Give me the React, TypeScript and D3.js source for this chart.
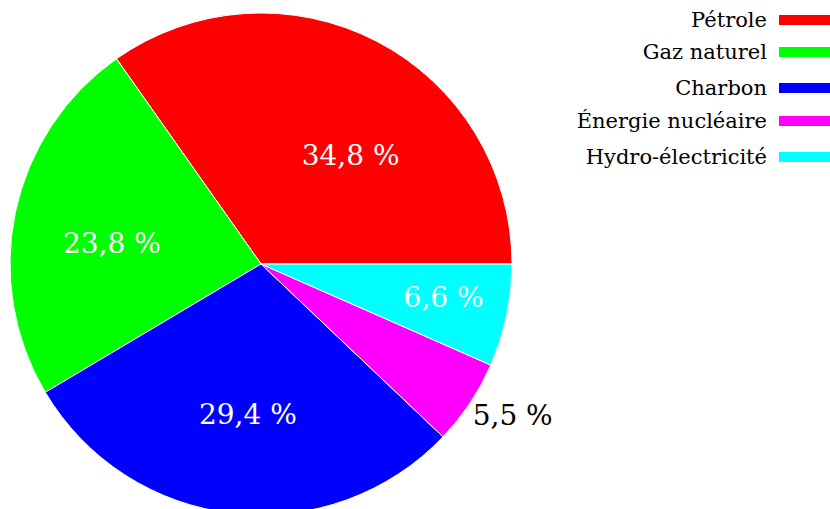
import React from "react";
import * as d3 from "d3";

const categories = ["Pétrole", "Gaz naturel", "Charbon", "Énergie nucléaire", "Hydro-électricité"];
const values = [34.8, 23.8, 29.4, 5.5, 6.6];
const valueLabels = ["34,8 %", "23,8 %", "29,4 %", "5,5 %", "6,6 %"];
const colors = ["#ff0000", "#00ff00", "#0000ff", "#ff00ff", "#00ffff"];

// label layout: [angle from east, counter-clockwise (deg), radius fraction]
const labelPolar: [number, number][] = [
  [50.4, 0.56],
  [172, 0.6],
  [265, 0.6],
  [329, 1.17],
  [349.5, 0.74],
];
const labelInside = [true, true, true, false, true];

const W = 830, H = 509;
const cx = 261, cy = 264, R = 251;
const FONT = "'DejaVu Serif', serif";

export default function App() {
  const total = d3.sum(values);
  const angle = d3.scaleLinear().domain([0, total]).range([0, 2 * Math.PI]);
  let cum = 0;
  const slices = values.map((v, i) => {
    const a0 = angle(cum);
    cum += v;
    const a1 = angle(cum);
    return { i, startAngle: Math.PI / 2 - a1, endAngle: Math.PI / 2 - a0 };
  });
  const arc = d3.arc<any>().innerRadius(0).outerRadius(R);

  const legendY = [20, 52, 88, 121, 157];

  return (
    <svg width={W} height={H} style={{ position: "absolute", left: 0, top: 0 }}>
      <rect width={W} height={H} fill="#fff" />
      <g transform={`translate(${cx},${cy})`}>
        {slices.map((s) => (
          <path key={s.i} d={arc(s) as string} fill={colors[s.i]} stroke="#fff" strokeWidth={1} strokeLinejoin="round" />
        ))}
        {labelPolar.map(([deg, f], i) => {
          const a = (deg * Math.PI) / 180;
          const x = Math.cos(a) * R * f;
          const y = -Math.sin(a) * R * f;
          return (
            <text key={i} x={x} y={y} textAnchor="middle" dominantBaseline="central"
              fill={labelInside[i] ? "#fff" : "#000"} fontFamily={FONT} fontSize={28}>
              {valueLabels[i]}
            </text>
          );
        })}
      </g>
      <g>
        {categories.map((c, i) => (
          <g key={c}>
            <text x={767} y={legendY[i]} textAnchor="end" dominantBaseline="central" fontFamily={FONT} fontSize={21}>
              {c}
            </text>
            <rect x={779} y={legendY[i] - 5} width={52} height={10} fill={colors[i]} />
          </g>
        ))}
      </g>
    </svg>
  );
}
